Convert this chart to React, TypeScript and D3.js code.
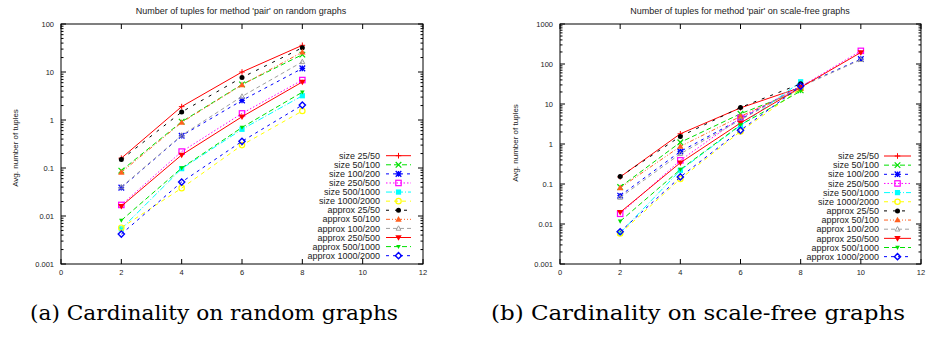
import React from 'react';
import * as d3 from 'd3';

// series names (legend order)
const seriesNames = [
  'size 25/50', 'size 50/100', 'size 100/200', 'size 250/500', 'size 500/1000', 'size 1000/2000',
  'approx 25/50', 'approx 50/100', 'approx 100/200', 'approx 250/500', 'approx 500/1000', 'approx 1000/2000',
];

// random graphs, x = 2,4,6,8
const xRandom = [2, 4, 6, 8];
const rSize25 = [0.16, 1.9, 10, 36];
const rSize50 = [0.088, 0.92, 5.5, 23];
const rSize100 = [0.039, 0.47, 2.56, 11.9];
const rSize250 = [0.017, 0.22, 1.37, 6.8];
const rSize500 = [0.0054, 0.097, 0.64, 3.2];
const rSize1000 = [0.0057, 0.038, 0.3, 1.54];
const rApprox25 = [0.15, 1.47, 7.7, 32];
const rApprox50 = [0.081, 0.89, 5.4, 26];
const rApprox100 = [0.04, 0.48, 3.1, 16.3];
const rApprox250 = [0.016, 0.187, 1.17, 6.2];
const rApprox500 = [0.0081, 0.1, 0.7, 3.8];
const rApprox1000 = [0.0042, 0.051, 0.36, 2.05];

// scale-free graphs, x = 2,4,6,8(,10)
const xScaleFree = [2, 4, 6, 8, 10];
const sSize25 = [0.15, 1.8, 8.0, 26];
const sSize50 = [0.084, 1.1, 5.7, 22];
const sSize100 = [0.051, 0.65, 4.2, 28, 133];
const sSize250 = [0.018, 0.39, 4.5, 27, 213];
const sSize500 = [0.006, 0.22, 2.9, 36];
const sSize1000 = [0.0058, 0.134, 2.06, 24];
const sApprox25 = [0.153, 1.55, 8.2, 32];
const sApprox50 = [0.08, 0.87, 4.9, 24];
const sApprox100 = [0.046, 0.57, 4.0, 27, 128];
const sApprox250 = [0.0196, 0.34, 3.35, 26, 194];
const sApprox500 = [0.0117, 0.23, 3.0, 21];
const sApprox1000 = [0.0064, 0.15, 2.2, 28];

const randomSeries = [rSize25, rSize50, rSize100, rSize250, rSize500, rSize1000,
  rApprox25, rApprox50, rApprox100, rApprox250, rApprox500, rApprox1000];
const scaleFreeSeries = [sSize25, sSize50, sSize100, sSize250, sSize500, sSize1000,
  sApprox25, sApprox50, sApprox100, sApprox250, sApprox500, sApprox1000];

const xTicks = [0, 2, 4, 6, 8, 10, 12];
const yTicksRandom = [0.001, 0.01, 0.1, 1, 10, 100];
const yTicksScaleFree = [0.001, 0.01, 0.1, 1, 10, 100, 1000];

// gnuplot-like styles
const colors = ['#ff0000', '#00e000', '#0000ff', '#ff00ff', '#00ffff', '#ffff00',
  '#000000', '#ff6020', '#a0a0a0', '#ff0000', '#00e000', '#0000ff'];
const dashes = ['', '5,3', '3,4', '1.5,2', '6,2,1,2', '4,4', '3,6', '4,2,1,2,1,2', '4,3', '', '5,3', '3,4'];
const markers = ['plus', 'cross', 'star', 'osquare', 'fsquare', 'ocircle', 'fcircle', 'ftri', 'otri', 'fdtri', 'fdtri_s', 'odiamond'];

const font = "'Liberation Sans', Arial, sans-serif";
const serif = "'DejaVu Serif', serif";

function Marker({ kind, x, y, color }: { kind: string; x: number; y: number; color: string }) {
  const s = 2.8;
  switch (kind) {
    case 'plus':
      return <path d={`M${x - s},${y}H${x + s}M${x},${y - s}V${y + s}`} stroke={color} strokeWidth={1} />;
    case 'cross':
      return <path d={`M${x - s},${y - s}L${x + s},${y + s}M${x - s},${y + s}L${x + s},${y - s}`} stroke={color} strokeWidth={1.2} />;
    case 'star':
      return <path d={`M${x - s},${y}H${x + s}M${x},${y - s}V${y + s}M${x - s},${y - s}L${x + s},${y + s}M${x - s},${y + s}L${x + s},${y - s}`} stroke={color} strokeWidth={1.3} />;
    case 'osquare':
      return <rect x={x - 2.7} y={y - 2.7} width={5.4} height={5.4} fill="none" stroke={color} strokeWidth={1.2} />;
    case 'fsquare':
      return <rect x={x - 2.6} y={y - 2.6} width={5.2} height={5.2} fill={color} />;
    case 'ocircle':
      return <circle cx={x} cy={y} r={2.7} fill="none" stroke={color} strokeWidth={1.2} />;
    case 'fcircle':
      return <circle cx={x} cy={y} r={2.5} fill={color} />;
    case 'ftri':
      return <path d={`M${x},${y - 3.3}L${x + 3.2},${y + 2.3}L${x - 3.2},${y + 2.3}Z`} fill={color} />;
    case 'otri':
      return <path d={`M${x},${y - 2.6}L${x + 2.4},${y + 1.8}L${x - 2.4},${y + 1.8}Z`} fill="none" stroke={color} strokeWidth={1} />;
    case 'fdtri':
      return <path d={`M${x},${y + 3.3}L${x + 3.2},${y - 2.3}L${x - 3.2},${y - 2.3}Z`} fill={color} />;
    case 'fdtri_s':
      return <path d={`M${x},${y + 2.4}L${x + 2.3},${y - 1.7}L${x - 2.3},${y - 1.7}Z`} fill={color} />;
    case 'odiamond':
      return <path d={`M${x},${y - 3.1}L${x + 3.1},${y}L${x},${y + 3.1}L${x - 3.1},${y}Z`} fill="none" stroke={color} strokeWidth={1.4} />;
    default:
      return null;
  }
}

type PlotProps = {
  title: string;
  x0: number; x1: number; y0: number; y1: number;
  yDomain: [number, number];
  yTicks: number[];
  xs: number[];
  series: number[][];
  titleX: number;
  yLabelX: number; yLabelY: number;
  legendTextX: number; legendLineX0: number; legendLineX1: number; legendY0: number; legendStep: number;
};

function Plot(p: PlotProps) {
  const x = d3.scaleLinear().domain([0, 12]).range([p.x0, p.x1]);
  const y = d3.scaleLog().domain(p.yDomain).range([p.y1, p.y0]);
  const line = d3.line<number>().x((d, i) => x(p.xs[i])).y(d => y(d));

  const minor: number[] = [];
  for (let e = Math.log10(p.yDomain[0]); e < Math.log10(p.yDomain[1]); e++) {
    for (let k = 2; k <= 9; k++) minor.push(k * Math.pow(10, e));
  }
  const tick = 5;
  const mtick = 2.5;

  return (
    <g>
      <text x={p.titleX} y={14} textAnchor="middle" fontSize={9} fontFamily={font} fill="#222">{p.title}</text>
      <text transform={`translate(${p.yLabelX},${p.yLabelY}) rotate(-90)`} textAnchor="middle" fontSize={8} fontFamily={font} fill="#222">Avg. number of tuples</text>
      {/* y ticks */}
      {p.yTicks.map(t => (
        <g key={'y' + t}>
          <line x1={p.x0} x2={p.x0 + tick} y1={y(t)} y2={y(t)} stroke="#000" />
          <line x1={p.x1} x2={p.x1 - tick} y1={y(t)} y2={y(t)} stroke="#000" />
          <text x={p.x0 - 7} y={y(t)} dy="0.35em" textAnchor="end" fontSize={7.5} fontFamily={font} fill="#222">{String(t)}</text>
        </g>
      ))}
      {minor.map(t => (
        <g key={'m' + t}>
          <line x1={p.x0} x2={p.x0 + mtick} y1={y(t)} y2={y(t)} stroke="#000" />
          <line x1={p.x1} x2={p.x1 - mtick} y1={y(t)} y2={y(t)} stroke="#000" />
        </g>
      ))}
      {/* x ticks */}
      {xTicks.map(t => (
        <g key={'x' + t}>
          <line x1={x(t)} x2={x(t)} y1={p.y1} y2={p.y1 - tick} stroke="#000" />
          <line x1={x(t)} x2={x(t)} y1={p.y0} y2={p.y0 + tick} stroke="#000" />
          <text x={x(t)} y={p.y1 + 11} textAnchor="middle" fontSize={7.5} fontFamily={font} fill="#222">{String(t)}</text>
        </g>
      ))}
      {/* series */}
      {p.series.map((vals, i) => (
        <g key={'s' + i}>
          <path d={line(vals) || ''} fill="none" stroke={colors[i]} strokeWidth={1} strokeDasharray={dashes[i] || undefined} />
          {vals.map((v, j) => <Marker key={j} kind={markers[i]} x={x(p.xs[j])} y={y(v)} color={colors[i]} />)}
        </g>
      ))}
      {/* legend */}
      {seriesNames.map((name, i) => {
        const ly = p.legendY0 + i * p.legendStep;
        return (
          <g key={'l' + i}>
            <text x={p.legendTextX} y={ly} dy="0.35em" textAnchor="end" fontSize={9} fontFamily={font} fill="#222">{name}</text>
            <line x1={p.legendLineX0} x2={p.legendLineX1} y1={ly} y2={ly} stroke={colors[i]} strokeDasharray={dashes[i] || undefined} />
            <Marker kind={markers[i]} x={(p.legendLineX0 + p.legendLineX1) / 2} y={ly} color={colors[i]} />
          </g>
        );
      })}
      <rect x={p.x0} y={p.y0} width={p.x1 - p.x0} height={p.y1 - p.y0} fill="none" stroke="#000" strokeWidth={1} />
    </g>
  );
}

export default function App() {
  return (
    <svg width={930} height={337} style={{ position: 'absolute', left: 0, top: 0, background: '#fff' }}>
      <rect width={930} height={337} fill="#fff" />
      <Plot
        title="Number of tuples for method 'pair' on random graphs"
        x0={61} x1={423} y0={24} y1={264}
        yDomain={[0.001, 100]} yTicks={yTicksRandom}
        xs={xRandom} series={randomSeries}
        titleX={241}
        yLabelX={18} yLabelY={148}
        legendTextX={380} legendLineX0={386} legendLineX1={411} legendY0={155.7} legendStep={9.09}
      />
      <Plot
        title="Number of tuples for method 'pair' on scale-free graphs"
        x0={560} x1={921} y0={24} y1={264}
        yDomain={[0.001, 1000]} yTicks={yTicksScaleFree}
        xs={xScaleFree} series={scaleFreeSeries}
        titleX={740}
        yLabelX={518} yLabelY={143}
        legendTextX={879} legendLineX0={884} legendLineX1={911} legendY0={156} legendStep={9.15}
      />
      <text x={30} y={320} fontSize={20} fontFamily={serif} fill="#000" textLength={368} lengthAdjust="spacingAndGlyphs">(a) Cardinality on random graphs</text>
      <text x={491} y={320} fontSize={20} fontFamily={serif} fill="#000" textLength={414} lengthAdjust="spacingAndGlyphs">(b) Cardinality on scale-free graphs</text>
    </svg>
  );
}
